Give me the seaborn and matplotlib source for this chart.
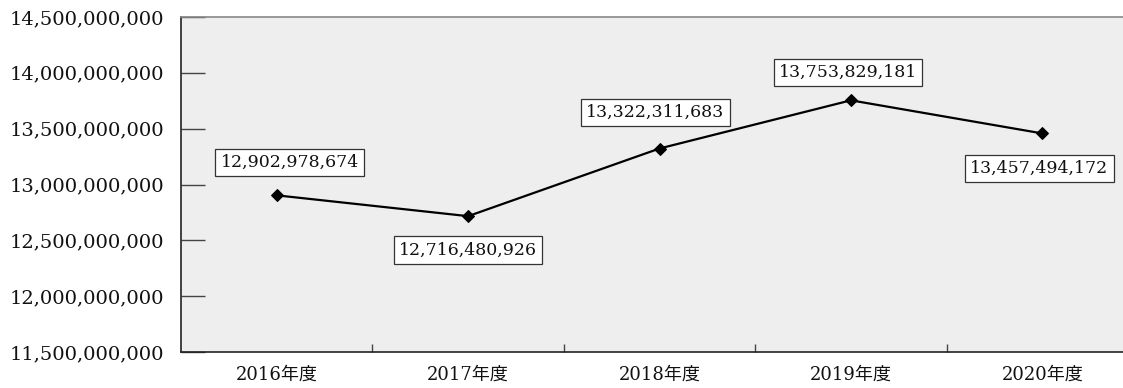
import matplotlib
matplotlib.use("Agg")
import matplotlib.pyplot as plt
from matplotlib.ticker import FuncFormatter, FixedLocator
import seaborn as sns
import pandas as pd

years = ["2016年度", "2017年度", "2018年度", "2019年度", "2020年度"]
amounts = [12902978674, 12716480926, 13322311683, 13753829181, 13457494172]
# label offsets in pixels (dx, dy) relative to each point
label_dx = [13, 0, -4, -3, -3]
label_dy = [33, -34, 36, 28, -35]

df = pd.DataFrame({"year": years, "amount": amounts})

sns.set_theme(style="white")
serif = ["DejaVu Serif", "Noto Sans CJK JP"]
plt.rcParams["font.family"] = serif

fig = plt.figure(figsize=(11.23, 3.88), dpi=100)
ax = fig.add_axes([181 / 1123, 36 / 388, (1138 - 181) / 1123, (352 - 17) / 388])
ax.set_facecolor("#eeeeee")

x = list(range(len(years)))
df["x"] = x
sns.lineplot(data=df, x="x", y="amount", ax=ax, color="black", linewidth=1.6,
             marker="D", markersize=6.5, markeredgecolor="black",
             markerfacecolor="black", legend=False)

for xi, v, dx, dy in zip(x, amounts, label_dx, label_dy):
    ax.annotate(f"{v:,}", (xi, v), xytext=(dx, dy), textcoords="offset pixels",
                ha="center", va="center", fontsize=12.5, color="#111111",
                family=serif,
                bbox=dict(boxstyle="square,pad=0.3", fc="white",
                          ec="#333333", lw=0.9))

ax.set_xlim(-0.5, len(years) - 0.5)
ax.set_ylim(11_500_000_000, 14_500_000_000)
ax.set_yticks([11_500_000_000 + 500_000_000 * i for i in range(7)])
ax.yaxis.set_major_formatter(FuncFormatter(lambda v, p: f"{int(round(v)):,}"))
ax.set_xticks(x)
ax.set_xticklabels(years)
ax.xaxis.set_minor_locator(FixedLocator([i + 0.5 for i in range(len(years) - 1)]))

ax.tick_params(axis="y", which="major", direction="in", length=17, width=1,
               color="#444444", labelsize=14, labelcolor="#111111", pad=12,
               left=True)
ax.tick_params(axis="x", which="major", length=0, labelsize=13,
               labelcolor="#111111", pad=10)
ax.tick_params(axis="x", which="minor", direction="in", length=6, width=1,
               color="#444444", bottom=True)

for lab in ax.get_xticklabels() + ax.get_yticklabels():
    lab.set_family(serif)

ax.set_xlabel("")
ax.set_ylabel("")
ax.spines["left"].set_color("#222222")
ax.spines["left"].set_linewidth(1.2)
ax.spines["bottom"].set_color("#222222")
ax.spines["bottom"].set_linewidth(1.2)
ax.spines["top"].set_color("#888888")
ax.spines["top"].set_linewidth(1.2)
ax.spines["right"].set_visible(False)
for s in ["left", "bottom", "top"]:
    ax.spines[s].set_visible(True)

fig.savefig("out.png", dpi=100)
